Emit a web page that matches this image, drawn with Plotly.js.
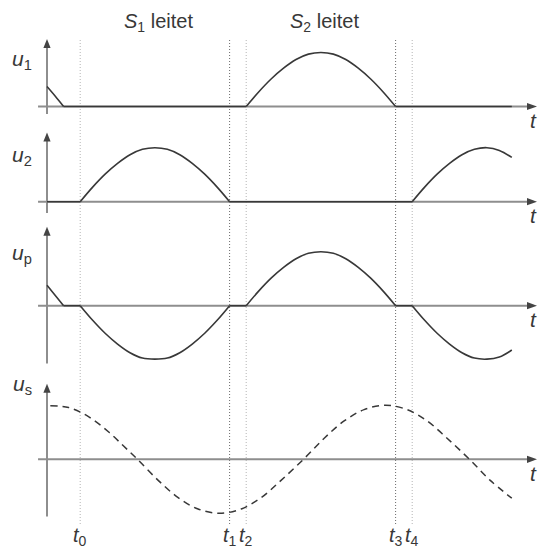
<!DOCTYPE html>
<html>
<head>
<meta charset="utf-8">
<script src="https://cdn.plot.ly/plotly-3.0.1.min.js"></script>
<style>
  html, body { margin: 0; padding: 0; background: #fff; }
  #chart { width: 540px; height: 551px; }
</style>
</head>
<body>
<div id="chart"></div>
<script>
// Switching instants (time units: one mains period = 20)
const instantTimes = [2, 11, 12, 21, 22];
const instantLabels = ['<i>t</i><sub>0</sub>', '<i>t</i><sub>1</sub>', '<i>t</i><sub>2</sub>', '<i>t</i><sub>3</sub>', '<i>t</i><sub>4</sub>'];

// Conduction intervals labelled on top
const intervalLabels = ['<i>S</i><sub>1</sub> leitet', '<i>S</i><sub>2</sub> leitet'];
const intervalCenters = [6.7, 16.7];

// u1: winding voltage while S2 conducts (null separates segments)
const u1Time = [0, 0.5, 1, null,
  1, 12, null,
  12, 12.75, 13.5, 14.25, 15, 15.75, 16.5, 17.25, 18, 18.75, 19.5, 20.25, 21, null,
  21, 28];
const u1Value = [0.37, 0.19, 0, null,
  0, 0, null,
  0, 0.27, 0.51, 0.71, 0.87, 0.97, 1, 0.97, 0.87, 0.71, 0.51, 0.27, 0, null,
  0, 0];

// u2: winding voltage while S1 conducts
const u2Time = [0, 2, null,
  2, 2.75, 3.5, 4.25, 5, 5.75, 6.5, 7.25, 8, 8.75, 9.5, 10.25, 11, null,
  11, 22, null,
  22, 22.75, 23.5, 24.25, 25, 25.75, 26.5, 27.25, 28];
const u2Value = [0, 0, null,
  0, 0.27, 0.51, 0.71, 0.87, 0.97, 1, 0.97, 0.87, 0.71, 0.51, 0.27, 0, null,
  0, 0, null,
  0, 0.27, 0.51, 0.71, 0.87, 0.97, 1, 0.95, 0.82];

// up: primary voltage
const upTime = [0, 0.5, 1, null,
  1, 2, null,
  2, 2.75, 3.5, 4.25, 5, 5.75, 6.5, 7.25, 8, 8.75, 9.5, 10.25, 11, null,
  11, 12, null,
  12, 12.75, 13.5, 14.25, 15, 15.75, 16.5, 17.25, 18, 18.75, 19.5, 20.25, 21, null,
  21, 22, null,
  22, 22.75, 23.5, 24.25, 25, 25.75, 26.5, 27.25, 28];
const upValue = [0.38, 0.19, 0, null,
  0, 0, null,
  0, -0.27, -0.51, -0.71, -0.87, -0.97, -0.99, -0.97, -0.87, -0.71, -0.51, -0.27, 0, null,
  0, 0, null,
  0, 0.27, 0.51, 0.71, 0.87, 0.97, 1, 0.97, 0.87, 0.71, 0.51, 0.27, 0, null,
  0, 0, null,
  0, -0.27, -0.51, -0.71, -0.87, -0.97, -0.99, -0.95, -0.82];

// us: mains (source) voltage
const usTime = [0.2, 1.3, 2.5, 3.7, 4.6, 5.45, 6.7, 7.9, 9.1, 10.4, 11.7, 12.9,
  14.1, 15.45, 16.7, 17.9, 19.1, 20.4, 21.7, 22.9, 24.1, 25.45, 26.7, 28.0];
const usValue = [0.99, 0.96, 0.79, 0.51, 0.25, 0, -0.39, -0.71, -0.92, -1, -0.92, -0.71,
  -0.39, 0, 0.39, 0.71, 0.92, 1, 0.92, 0.71, 0.39, 0, -0.39, -0.72];

// Panel axis labels
const panelLabels = ['<i>u</i><sub>1</sub>', '<i>u</i><sub>2</sub>', '<i>u</i><sub>p</sub>', '<i>u</i><sub>s</sub>'];

// ---- layout helpers ----
const W = 540, H = 551;
const X_ORIGIN = 47, X_SCALE = 16.6;   // px of t = 0, px per time unit
const Y_SCALE = 54;                    // px per amplitude unit
const xRange = [-X_ORIGIN / X_SCALE, (W - X_ORIGIN) / X_SCALE];

// panel geometry: top / bottom of the subplot box and baseline, in px from top
const panels = [
  { top: 28,  bottom: 126, base: 106.5, axBottom: -0.14, axTop: 1.25, label: 60 },
  { top: 126, bottom: 226, base: 201.7, axBottom: -0.21, axTop: 1.28, label: 156 },
  { top: 226, bottom: 372, base: 305.7, axBottom: -1.07, axTop: 1.46, label: 254 },
  { top: 372, bottom: 530, base: 459.3, axBottom: -1.06, axTop: 1.40, label: 385 }
];

const AXIS_GREY = '#8e8e8e';
const HEAD = '#444444';
const INK = '#383838';
const FONT = 'Liberation Sans, Arial, Helvetica, sans-serif';

const layout = {
  width: W, height: H,
  margin: { l: 0, r: 0, t: 0, b: 0, pad: 0 },
  paper_bgcolor: '#ffffff', plot_bgcolor: 'rgba(0,0,0,0)',
  showlegend: false,
  xaxis: { range: xRange, visible: false, fixedrange: true },
  shapes: [], annotations: []
};

// filled arrow heads, sized in pixels around an anchor point
const headUp = 'M -3.6,-9 L 3.6,-9 L 0,0 Z';
const headRight = 'M -10,-3.6 L -10,3.6 L 0,0 Z';

panels.forEach((p, i) => {
  const key = i === 0 ? 'yaxis' : 'yaxis' + (i + 1);
  const ref = i === 0 ? 'y' : 'y' + (i + 1);
  layout[key] = {
    domain: [1 - p.bottom / H, 1 - p.top / H],
    range: [(p.base - p.bottom) / Y_SCALE, (p.base - p.top) / Y_SCALE],
    visible: false, fixedrange: true, anchor: 'x'
  };
  // time axis shaft + head
  layout.shapes.push({ type: 'line', xref: 'x', yref: ref, x0: -0.54, x1: 29.0, y0: 0, y1: 0,
    line: { color: AXIS_GREY, width: 2 }, layer: 'below' });
  layout.shapes.push({ type: 'path', xref: 'x', yref: ref, xsizemode: 'pixel', ysizemode: 'pixel',
    xanchor: 29.52, yanchor: 0, path: headRight, fillcolor: HEAD, line: { width: 0 } });
  // value axis shaft + head
  layout.shapes.push({ type: 'line', xref: 'x', yref: ref, x0: 0, x1: 0, y0: p.axBottom, y1: p.axTop - 0.14,
    line: { color: AXIS_GREY, width: 2 }, layer: 'below' });
  layout.shapes.push({ type: 'path', xref: 'x', yref: ref, xsizemode: 'pixel', ysizemode: 'pixel',
    xanchor: 0, yanchor: p.axTop, path: headUp, fillcolor: HEAD, line: { width: 0 } });
  // "t" at the end of the time axis
  layout.annotations.push({ xref: 'x', yref: ref, x: 29.3, y: 0, yshift: -14, text: '<i>t</i>',
    showarrow: false, xanchor: 'center', yanchor: 'middle', font: { family: FONT, size: 21, color: INK } });
  // quantity label
  layout.annotations.push({ xref: 'paper', yref: ref, x: 22 / W, y: (p.base - p.label) / Y_SCALE,
    text: panelLabels[i], showarrow: false, xanchor: 'center', yanchor: 'middle',
    font: { family: FONT, size: 21, color: INK } });
});

// dotted instant markers and their names below the diagram
instantTimes.forEach((t, k) => {
  const dark = (k === 1 || k === 3);
  layout.shapes.push({ type: 'line', xref: 'x', yref: 'paper', x0: t, x1: t,
    y0: 1 - 524 / H, y1: 1 - 40 / H,
    line: { color: dark ? '#6a6a6a' : '#b4b4b4', width: 1, dash: '1px,2px' }, layer: 'below' });
  layout.annotations.push({ xref: 'x', yref: 'paper', x: t, y: 0, text: instantLabels[k],
    showarrow: false, xanchor: 'center', yanchor: 'bottom', font: { family: FONT, size: 20, color: INK } });
});

intervalLabels.forEach((txt, k) => {
  layout.annotations.push({ xref: 'x', yref: 'paper', x: intervalCenters[k], y: 1 - 23 / H, text: txt,
    showarrow: false, xanchor: 'center', yanchor: 'middle', font: { family: FONT, size: 20, color: INK } });
});

const solid = { color: INK, width: 1.6, shape: 'spline', smoothing: 1 };
const traces = [
  { x: u1Time, y: u1Value, yaxis: 'y',  mode: 'lines', line: solid, connectgaps: false, hoverinfo: 'skip' },
  { x: u2Time, y: u2Value, yaxis: 'y2', mode: 'lines', line: solid, connectgaps: false, hoverinfo: 'skip' },
  { x: upTime, y: upValue, yaxis: 'y3', mode: 'lines', line: solid, connectgaps: false, hoverinfo: 'skip' },
  { x: usTime, y: usValue, yaxis: 'y4', mode: 'lines',
    line: { color: INK, width: 1.5, shape: 'spline', smoothing: 1, dash: '7px,5px' }, hoverinfo: 'skip' }
];
traces.forEach(tr => { tr.xaxis = 'x'; tr.cliponaxis = false; });

Plotly.newPlot('chart', traces, layout, { staticPlot: true, displayModeBar: false });
</script>
</body>
</html>
